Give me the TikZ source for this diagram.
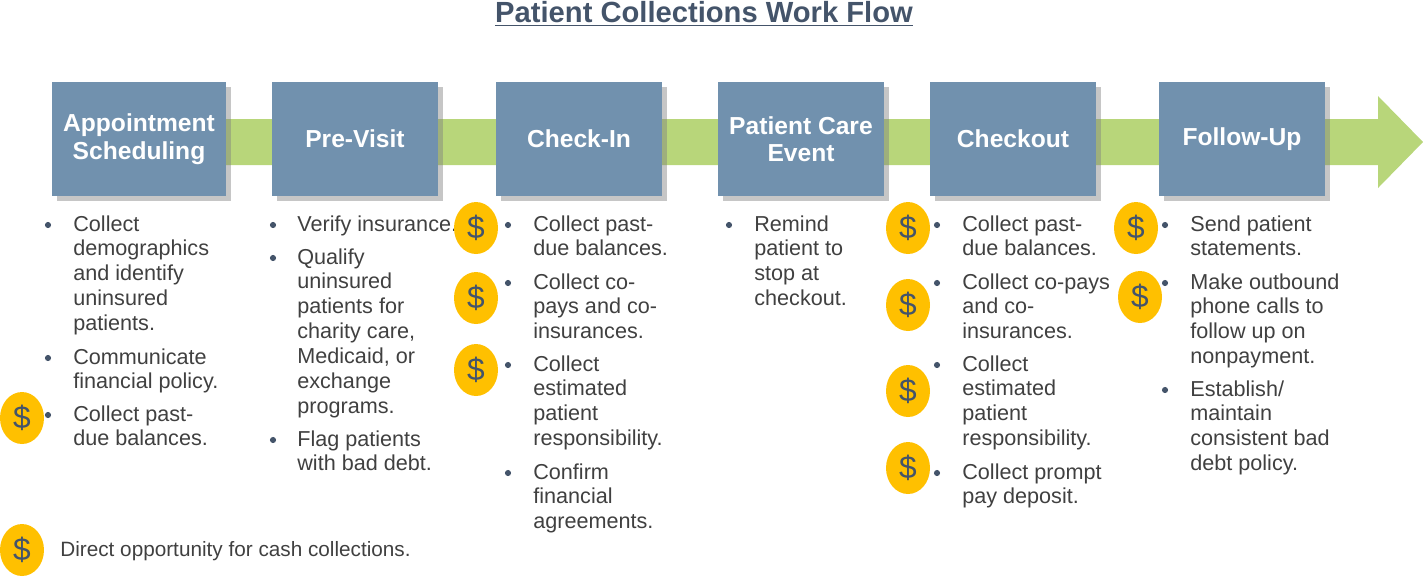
\documentclass[tikz,border=0pt]{standalone}
\usepackage{fontspec}
\setmainfont{Liberation Sans}
\usetikzlibrary{positioning,shadows,shapes.geometric}
\definecolor{boxblue}{HTML}{7191AE}
\definecolor{band}{HTML}{B8D67A}
\definecolor{coin}{HTML}{FFC000}
\definecolor{txt}{HTML}{404040}
\definecolor{ttl}{HTML}{44546A}
\tikzset{
  stage/.style={draw=none, fill=boxblue, minimum width=3.32cm, minimum height=2.28cm,
    text=white, font=\fontsize{14}{15.6}\selectfont\bfseries, align=center,
    drop shadow={opacity=0.45, shadow xshift=3pt, shadow yshift=-3pt}},
  coin/.style={ellipse, fill=coin, minimum width=0.88cm, minimum height=1.04cm, inner sep=0pt,
    text=ttl, font=\fontsize{18}{18}\selectfont},
  item/.style={anchor=north west, inner sep=0pt, text=txt, align=left,
    font=\fontsize{12.3}{14.2}\selectfont},
  dot/.style={circle, fill=ttl, inner sep=0pt, minimum size=3.5pt}
}
\begin{document}
\begin{tikzpicture}[x=0.02cm, y=-0.02cm]
\useasboundingbox (0,0) rectangle (1423,576);
\node[font=\fontsize{16.6}{18}\selectfont\bfseries, text=ttl] (title) at (704,14) {\underline{Patient Collections Work Flow}};
% arrow band
\fill[band] (200,119) -- (1378,119) -- (1378,96) -- (1423,142) -- (1378,188) -- (1378,165) -- (200,165) -- cycle;
% stages
\node[stage, minimum width=3.48cm] (appt) at (139,139) {Appointment\\Scheduling};
\node[stage] (pre) at (355,139) {Pre-Visit};
\node[stage] (check) at (579,139) {Check-In};
\node[stage] (care) at (801,139) {Patient Care\\Event};
\node[stage] (out) at (1013,139) {Checkout};
\node[stage] (follow) at (1242,139) {Follow-Up};
% column 1
\node[dot] (a1) at (48,225) {};
\node[item] at (73,215) {Collect\\demographics\\and identify\\uninsured\\patients.};
\node[dot] (a2) at (48,358) {};
\node[item] at (73,348) {Communicate\\financial policy.};
\node[dot] (a3) at (48,415) {};
\node[item] at (73,405) {Collect past-\\due balances.};
% column 2
\node[dot] (b1) at (273,225) {};
\node[item] at (297,215) {Verify insurance.};
\node[dot] (b2) at (273,258) {};
\node[item] at (297,248) {Qualify\\uninsured\\patients for\\charity care,\\Medicaid, or\\exchange\\programs.};
\node[dot] (b3) at (273,440) {};
\node[item] at (297,430) {Flag patients\\with bad debt.};
% column 3
\node[dot] (c1) at (508,225) {};
\node[item] at (533,215) {Collect past-\\due balances.};
\node[dot] (c2) at (508,283) {};
\node[item] at (533,273) {Collect co-\\pays and co-\\insurances.};
\node[dot] (c3) at (508,365) {};
\node[item] at (533,355) {Collect\\estimated\\patient\\responsibility.};
\node[dot] (c4) at (508,473) {};
\node[item] at (533,463) {Confirm\\financial\\agreements.};
% column 4
\node[dot] (d1) at (729,225) {};
\node[item] at (754,215) {Remind\\patient to\\stop at\\checkout.};
% column 5
\node[dot] (e1) at (937,225) {};
\node[item] at (962,215) {Collect past-\\due balances.};
\node[dot] (e2) at (937,283) {};
\node[item] at (962,273) {Collect co-pays\\and co-\\insurances.};
\node[dot] (e3) at (937,365) {};
\node[item] at (962,355) {Collect\\estimated\\patient\\responsibility.};
\node[dot] (e4) at (937,473) {};
\node[item] at (962,463) {Collect prompt\\pay deposit.};
% column 6
\node[dot] (f1) at (1165,225) {};
\node[item] at (1190,215) {Send patient\\statements.};
\node[dot] (f2) at (1165,283) {};
\node[item] at (1190,273) {Make outbound\\phone calls to\\follow up on\\nonpayment.};
\node[dot] (f3) at (1165,390) {};
\node[item] at (1190,380) {Establish/\\maintain\\consistent bad\\debt policy.};
% coins
\foreach \cx/\cy in {22/418, 476/228, 476/298, 476/370, 908/228, 908/305, 908/391, 908/468, 1136/228, 1140/297, 22/550}
  \node[coin] at (\cx,\cy) {\$};
\node[item, anchor=west, font=\fontsize{11.8}{13}\selectfont] (legend) at (60,551) {Direct opportunity for cash collections.};
\end{tikzpicture}
\end{document}
